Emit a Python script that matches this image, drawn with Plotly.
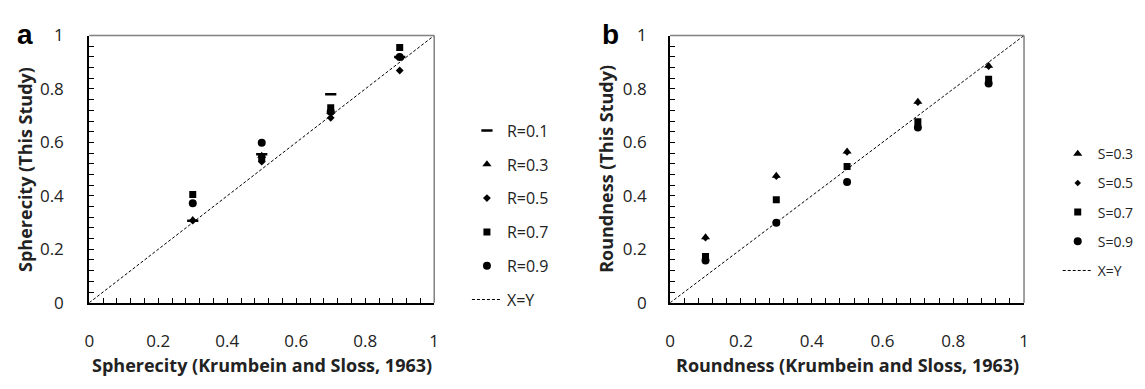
import plotly.graph_objects as go

W, H = 1145, 389

# ---- data ----
sph_x = [0.3, 0.5, 0.7, 0.9]
sph_names = ["R=0.1", "R=0.3", "R=0.5", "R=0.7", "R=0.9"]
sph_r01 = [0.307, 0.556, 0.78, 0.92]
sph_r03 = [0.31, 0.55, 0.715, 0.92]
sph_r05 = [0.307, 0.528, 0.692, 0.869]
sph_r07 = [0.405, 0.54, 0.73, 0.955]
sph_r09 = [0.372, 0.599, 0.715, 0.92]

rnd_x = [0.1, 0.3, 0.5, 0.7, 0.9]
rnd_names = ["S=0.3", "S=0.5", "S=0.7", "S=0.9"]
rnd_s03 = [0.245, 0.475, 0.566, 0.752, 0.887]
rnd_s05 = [0.241, 0.471, 0.562, 0.748, 0.883]
rnd_s07 = [0.173, 0.385, 0.51, 0.677, 0.836]
rnd_s09 = [0.158, 0.299, 0.452, 0.656, 0.82]

xy_line = [0, 1]
tick_vals = [0, 0.2, 0.4, 0.6, 0.8, 1]
tick_text = ["0", "0.2", "0.4", "0.6", "0.8", "1"]

# pixel geometry
L1, R1 = 85, 433
L2, R2 = 671, 1028
TOP, BOT = 25, 309


def px(x):
    return x / W


def py(y):
    return 1 - y / H


fig = go.Figure()


def add_pts(x, y, name, sym, size, rank, ax, leg, extra_line=None):
    mk = dict(symbol=sym, size=size, color="black")
    if extra_line:
        mk["line"] = dict(color="black", width=extra_line)
    fig.add_trace(go.Scatter(x=x, y=y, mode="markers", name=name, marker=mk,
                             xaxis="x" + ax, yaxis="y" + ax, legend=leg,
                             legendgroup=leg + name, legendrank=rank))


# panel a (draw order chosen so overlaps look like the reference)
add_pts(sph_x, sph_r01, sph_names[0], "line-ew", 8, 1, "", "legend", extra_line=2.5)
add_pts(sph_x, sph_r05, sph_names[2], "diamond", 6, 3, "", "legend")
add_pts(sph_x, sph_r03, sph_names[1], "triangle-up", 8, 2, "", "legend")
add_pts(sph_x, sph_r07, sph_names[3], "square", 7, 4, "", "legend")
add_pts(sph_x, sph_r09, sph_names[4], "circle", 8, 5, "", "legend")
fig.add_trace(go.Scatter(x=xy_line, y=xy_line, mode="lines", name="X=Y",
                         line=dict(color="black", width=1, dash="3px,2px"),
                         xaxis="x", yaxis="y", legend="legend", legendgroup="aXY",
                         legendrank=6))

# panel b
add_pts(rnd_x, rnd_s05, rnd_names[1], "diamond", 5, 2, "2", "legend2")
add_pts(rnd_x, rnd_s03, rnd_names[0], "triangle-up", 8, 1, "2", "legend2")
add_pts(rnd_x, rnd_s07, rnd_names[2], "square", 7, 3, "2", "legend2")
add_pts(rnd_x, rnd_s09, rnd_names[3], "circle", 8, 4, "2", "legend2")
fig.add_trace(go.Scatter(x=xy_line, y=xy_line, mode="lines", name="X=Y",
                         line=dict(color="black", width=1, dash="3px,2px"),
                         xaxis="x2", yaxis="y2", legend="legend2", legendgroup="bXY",
                         legendrank=5))

tickfont = dict(family="Open Sans", size=17, color="#222")
common = dict(range=[0, 1], tickvals=tick_vals, ticktext=tick_text, showgrid=False,
              zeroline=False, showline=True, linecolor="black", linewidth=2,
              ticks="inside", ticklen=5, tickwidth=1, tickcolor="black",
              minor=dict(dtick=0.04, ticks="inside", ticklen=5, tickwidth=1, tickcolor="black"),
              tickfont=tickfont, fixedrange=True)

fig.update_layout(
    width=W, height=H, margin=dict(l=0, r=0, t=0, b=0),
    paper_bgcolor="white", plot_bgcolor="white",
    xaxis=dict(domain=[px(L1), px(R1)], anchor="y", ticklabelstandoff=22, **common),
    yaxis=dict(domain=[py(BOT), py(TOP)], anchor="x", ticklabelstandoff=20, **common),
    xaxis2=dict(domain=[px(L2), px(R2)], anchor="y2", ticklabelstandoff=22, **common),
    yaxis2=dict(domain=[py(BOT), py(TOP)], anchor="x2", ticklabelstandoff=18, **common),
    legend=dict(x=px(466), y=py(108), xanchor="left", yanchor="top",
                font=dict(family="Open Sans", size=16, color="#222"),
                tracegroupgap=10, bgcolor="rgba(0,0,0,0)", traceorder="grouped"),
    legend2=dict(x=px(1062), y=py(134), xanchor="left", yanchor="top",
                 font=dict(family="Open Sans", size=14, color="#222"),
                 tracegroupgap=8, bgcolor="rgba(0,0,0,0)", traceorder="grouped"),
    showlegend=True,
)

# grey top/right frame lines
for L, R in [(L1, R1), (L2, R2)]:
    fig.add_shape(type="line", xref="paper", yref="paper", x0=px(L), x1=px(R),
                  y0=py(TOP), y1=py(TOP), line=dict(color="#808080", width=1.5))
    fig.add_shape(type="line", xref="paper", yref="paper", x0=px(R), x1=px(R),
                  y0=py(TOP), y1=py(BOT), line=dict(color="#808080", width=1.5))

titlefont = dict(family="Open Sans", size=18, color="#222", weight="bold")
ann = [
    dict(text="Spherecity (This Study)", x=px(20), y=py((TOP + BOT) / 2), textangle=-90),
    dict(text="Roundness (This Study)", x=px(606), y=py((TOP + BOT) / 2), textangle=-90),
    dict(text="Spherecity (Krumbein and Sloss, 1963)", x=px((L1 + R1) / 2), y=py(375)),
    dict(text="Roundness (Krumbein and Sloss, 1963)", x=px((L2 + R2) / 2), y=py(375)),
]
for a in ann:
    fig.add_annotation(xref="paper", yref="paper", xanchor="center", yanchor="middle",
                       showarrow=False, font=titlefont, **a)

for lab, xx in [("a", 20), ("b", 611)]:
    fig.add_annotation(text="<b>%s</b>" % lab, xref="paper", yref="paper", x=px(xx), y=py(24),
                       xanchor="center", yanchor="middle", showarrow=False,
                       font=dict(family="Liberation Sans", size=28, color="black"))

fig.write_html("out.html")
